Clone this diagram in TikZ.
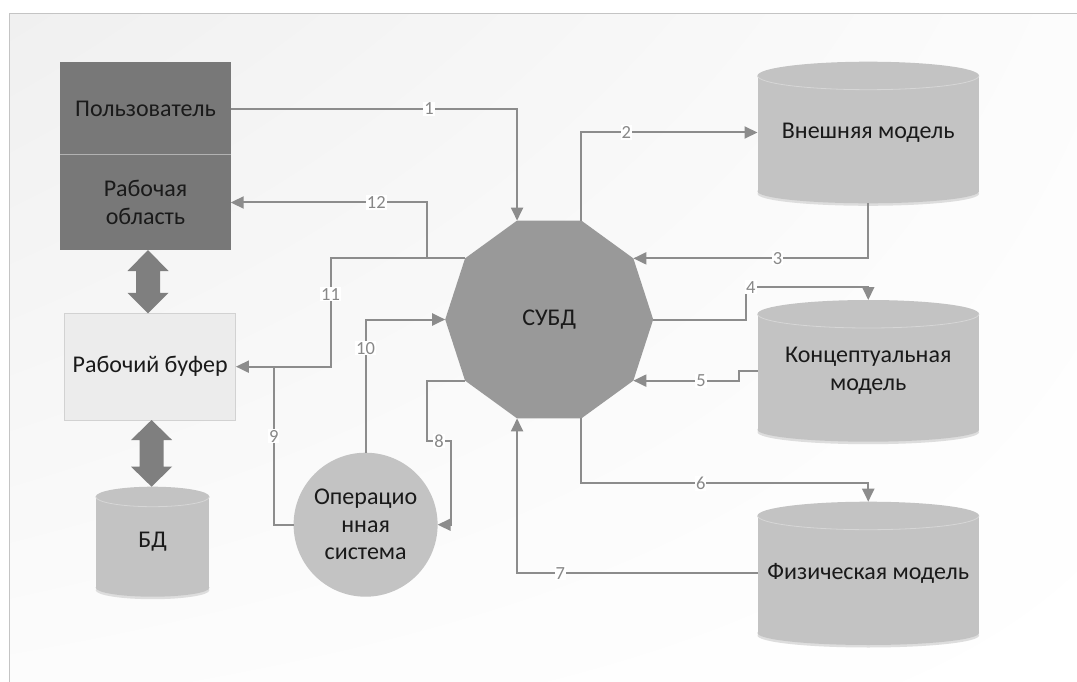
\documentclass[tikz,border=0pt]{standalone}
\usepackage{fontspec}
\setmainfont{Carlito}
\usetikzlibrary{shapes.geometric,arrows.meta,calc,backgrounds,shadings}
\definecolor{framecol}{HTML}{C4C4C4}
\definecolor{bgA}{HTML}{F0F0F0}
\definecolor{bgB}{HTML}{FCFCFC}
\definecolor{darkbox}{HTML}{787878}
\definecolor{divcol}{HTML}{B2B2B2}
\definecolor{bufcol}{HTML}{ECECEC}
\definecolor{bufedge}{HTML}{D2D2D2}
\definecolor{bigcol}{HTML}{7F7F7F}
\definecolor{cylcol}{HTML}{C3C3C3}
\definecolor{rimcol}{HTML}{D6D6D6}
\definecolor{shadcol}{HTML}{DDDDDD}
\definecolor{octcol}{HTML}{999999}
\definecolor{conncol}{HTML}{8C8C8C}
\definecolor{lblcol}{HTML}{888888}
\definecolor{txtcol}{HTML}{1A1A1A}
\newcommand\dbcyl[4]{%
  \fill[shadcol] ($(#1.south)+(0,-#4+2.5)$) ellipse [x radius=#2, y radius=#4];
  \fill[cylcol] ($(#1.north west)+(0,#3)$) rectangle ($(#1.south east)+(0,-#4)$);
  \fill[cylcol] ($(#1.south)+(0,-#4)$) ellipse [x radius=#2, y radius=#4];
  \fill[cylcol] ($(#1.north)+(0,#3)$) ellipse [x radius=#2, y radius=#3];
  \draw[rimcol, line width=0.8pt] ($(#1.north west)+(0,#3)$) arc[start angle=180, end angle=0, x radius=#2, y radius=#3];
}
\begin{document}
\begin{tikzpicture}[x=1pt, y=-1pt,
  font=\fontsize{24}{27.5}\selectfont, text=txtcol,
  conn/.style={draw=conncol, line width=2pt},
  arr/.style={conn, -{Triangle[length=13pt,width=12pt]}},
  lbl/.style={fill=white, text=lblcol, inner sep=1pt, font=\fontsize{18.5}{20}\selectfont},
  darkrect/.style={rectangle, fill=darkbox, minimum width=170.4pt, inner sep=0pt, outer sep=0pt, align=center},
  cylnode/.style={rectangle, inner sep=0pt, outer sep=0pt, align=center}]
\useasboundingbox (0,0) rectangle (1077,682);
\begin{pgfonlayer}{background}
  \fill[white] (0,0) rectangle (1077,682);
  \shade[upper left=bgA, upper right=bgB, lower left=bgB, lower right=white] (9.6,13.3) rectangle (1077,682);
\end{pgfonlayer}
\draw[framecol, line width=1.5pt] (9.6,682) -- (9.6,13.3) -- (1077,13.3);

% left column
\node[darkrect, minimum height=92.7pt] (user) at (145.5,108.65) {Пользователь};
\node[darkrect, minimum height=95pt] (work) at (145.5,202.5) {Рабочая\\область};
\draw[divcol, line width=1pt] (user.south west) -- (user.south east);
\node[rectangle, fill=bufcol, draw=bufedge, line width=1pt, minimum width=171.5pt, minimum height=106.7pt, inner sep=0pt, outer sep=0pt] (buffer) at (150.15,366.65) {Рабочий буфер};
\node[cylnode, minimum width=113.7pt, minimum height=110pt] (bd) at (152.55,541.7) {БД};

% big double arrows
\fill[bigcol] let \p1=($(work.south)+(2.5,0)$), \p2=($(buffer.north)+(2.5,0)$) in
  (\p1) -- (\x1+20.5pt,\y1-21pt) -- (\x1+12pt,\y1-21pt) -- (\x1+12pt,\y2+20.5pt) -- (\x1+20.5pt,\y2+20.5pt) -- (\x1,\y2)
  -- (\x1-20.5pt,\y2+20.5pt) -- (\x1-12pt,\y2+20.5pt) -- (\x1-12pt,\y1-21pt) -- (\x1-20.5pt,\y1-21pt) -- cycle;
\fill[bigcol] let \p1=($(buffer.south)+(1.4,0)$), \p2=($(bd.north)+(-1.1,0)$) in
  (\p1) -- (\x1+20.5pt,\y1-20pt) -- (\x1+12pt,\y1-20pt) -- (\x1+12pt,\y2+20pt) -- (\x1+20.5pt,\y2+20pt) -- (\x1,\y2)
  -- (\x1-20.5pt,\y2+20pt) -- (\x1-12pt,\y2+20pt) -- (\x1-12pt,\y1-20pt) -- (\x1-20.5pt,\y1-20pt) -- cycle;

% center
\node[regular polygon, regular polygon sides=10, minimum size=208pt, inner sep=0pt, outer sep=0pt, fill=octcol] (dbms) at (549.2,319.5) {СУБД};
\node[circle, fill=cylcol, minimum size=144pt, inner sep=0pt, outer sep=0pt, align=center] (os) at (365.6,524.7) {Операцио\\нная\\система};

% right cylinders
\node[cylnode, minimum width=221.5pt, minimum height=141.6pt] (ext) at (868.25,132.5) {Внешняя модель};
\node[cylnode, minimum width=221.5pt, minimum height=141.7pt] (conc) at (868.25,370.85) {Концептуальная\\модель};
\node[cylnode, minimum width=221.5pt, minimum height=143.3pt] (phys) at (868.25,573.35) {Физическая модель};

\begin{pgfonlayer}{background}
  \dbcyl{ext}{110.75}{14}{12}
  \dbcyl{conc}{110.75}{14}{12}
  \dbcyl{phys}{110.75}{14}{12}
  \dbcyl{bd}{56.85}{10}{9}
\end{pgfonlayer}

% helper coordinates
\coordinate (k4) at (746,287.3);
\coordinate (k5) at (739.3,0);
\coordinate (k6) at (0,483.3);
\coordinate (k8a) at (427,441);
\coordinate (k8b) at (451,441);
\coordinate (k9) at (273.8,0);
\coordinate (k11) at (330.6,0);
\coordinate (k12) at (427,0);

% connectors
\draw[arr] (user.east) -- node[lbl,pos=0.693]{1} (dbms.108 |- user.east) -- (dbms.108);
\draw[arr] (dbms.72) -- (dbms.72 |- ext.west) -- node[lbl,pos=0.255]{2} (ext.west);
\draw[arr] (ext.south) -- (ext.south |- dbms.36) -- node[lbl,pos=0.386]{3} (dbms.36);
\draw[arr] (dbms.east) -- (k4 |- dbms.east) -- (k4) -- node[lbl,pos=0.04]{4} (k4 -| conc.north) -- (conc.north);
\draw[arr] (conc.west) -- (k5 |- conc.west) -- (k5 |- dbms.324) -- node[lbl,pos=0.36]{5} (dbms.324);
\draw[arr] (dbms.288) -- (dbms.288 |- k6) -- node[lbl,pos=0.416]{6} (phys.north |- k6) -- (phys.north);
\draw[arr] (phys.west) -- node[lbl,pos=0.82]{7} (dbms.252 |- phys.west) -- (dbms.252);
\draw[arr] (dbms.216) -- (k8a |- dbms.216) -- (k8a) -- node[lbl]{8} (k8b) -- (k8b |- os.east) -- (os.east);
\draw[conn] (os.west) -- (k9 |- os.west) -- node[lbl,pos=0.56]{9} (k9 |- buffer.east);
\draw[arr] (os.north) -- node[lbl,pos=0.785]{10} (os.north |- dbms.west) -- (dbms.west);
\draw[arr] (dbms.144) -- (k11 |- dbms.144) -- node[lbl,pos=0.33]{11} (k11 |- buffer.east) -- (buffer.east);
\draw[arr] (k12 |- dbms.144) -- (k12 |- work.east) -- node[lbl,pos=0.258]{12} (work.east);
\end{tikzpicture}
\end{document}
